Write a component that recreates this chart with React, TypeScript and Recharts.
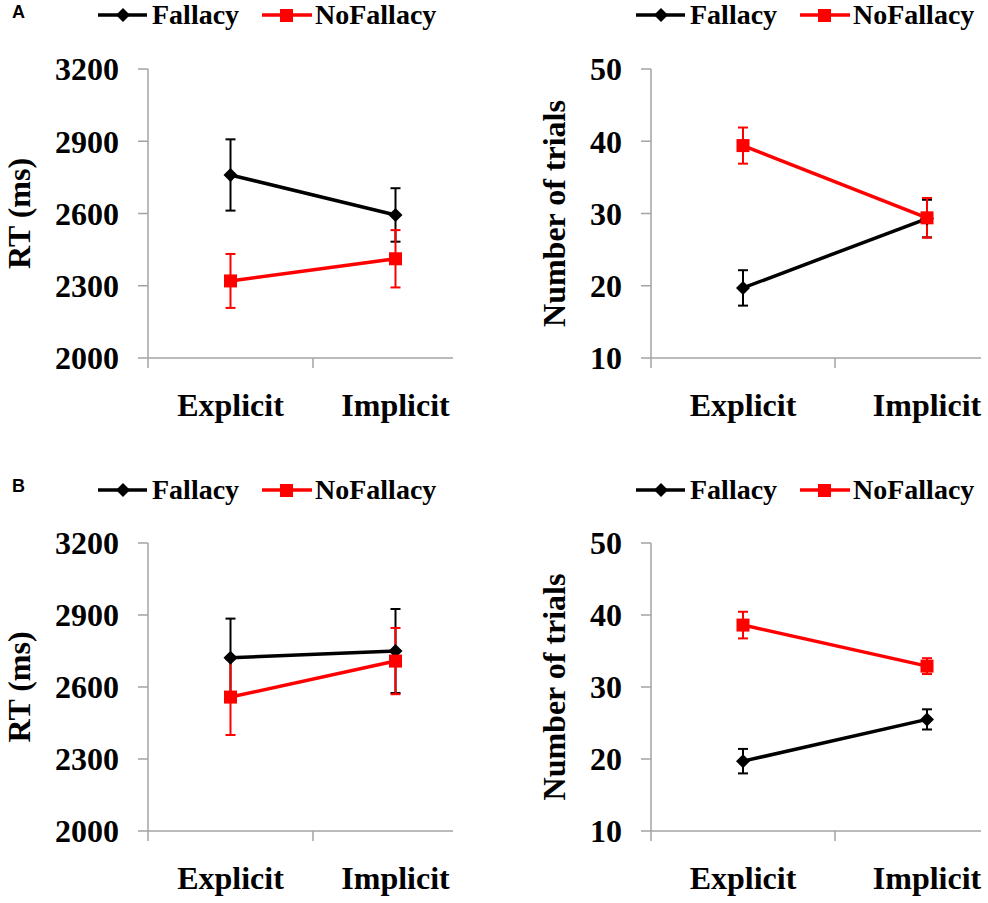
import { LineChart, Line, XAxis, YAxis, ErrorBar, Label } from "recharts";

const CONDITIONS = ["Explicit", "Implicit"];
const CONDITION_POS = [0.5, 1.5];

const RT_TICKS = [2000, 2300, 2600, 2900, 3200];
const TRIAL_TICKS = [10, 20, 30, 40, 50];

// panel A
const rtFallacyA = [2760, 2594];
const rtFallacyErrA = [148, 111];
const rtNoFallacyA = [2320, 2412];
const rtNoFallacyErrA = [112, 119];
const trialsFallacyA = [19.7, 29.3];
const trialsFallacyErrA = [2.45, 2.6];
const trialsNoFallacyA = [39.4, 29.4];
const trialsNoFallacyErrA = [2.5, 2.75];

// panel B
const rtFallacyB = [2722, 2750];
const rtFallacyErrB = [163, 175];
const rtNoFallacyB = [2558, 2708];
const rtNoFallacyErrB = [158, 138];
const trialsFallacyB = [19.7, 25.5];
const trialsFallacyErrB = [1.7, 1.4];
const trialsNoFallacyB = [38.6, 32.9];
const trialsNoFallacyErrB = [1.85, 1.1];

const SERIF = "'Liberation Serif', serif";
const AXIS = "#a3a3a3";
const RED = "#ff0000";

type Row = { x: number; fallacy: number; fallacyErr: number; noFallacy: number; noFallacyErr: number };

function buildRows(f: number[], fe: number[], n: number[], ne: number[]): Row[] {
  return CONDITIONS.map((_c, i) => ({
    x: CONDITION_POS[i],
    fallacy: f[i],
    fallacyErr: fe[i],
    noFallacy: n[i],
    noFallacyErr: ne[i],
  }));
}

function Diamond(props: any) {
  const { cx, cy } = props;
  if (cx == null || cy == null) return null;
  const r = 7;
  return <path d={`M${cx},${cy - r}L${cx + r},${cy}L${cx},${cy + r}L${cx - r},${cy}Z`} fill="#000" />;
}

function Square(props: any) {
  const { cx, cy } = props;
  if (cx == null || cy == null) return null;
  return <rect x={cx - 6.5} y={cy - 6.5} width={13} height={13} fill={RED} />;
}

// integer ticks = small tick marks on the axis, half ticks = condition names
function CategoryTick(props: any) {
  const { x, y, payload } = props;
  const v = payload.value as number;
  if (Number.isInteger(v)) {
    return <line x1={x} x2={x} y1={y} y2={y + 10} stroke={AXIS} strokeWidth={1.5} />;
  }
  const idx = CONDITION_POS.indexOf(v);
  return (
    <text x={x} y={y + 58} textAnchor="middle" style={{ fontFamily: SERIF, fontWeight: "bold", fontSize: 32 }} fill="#000">
      {CONDITIONS[idx]}
    </text>
  );
}

function Legend({ left, top }: { left: number; top: number }) {
  const font = { fontFamily: SERIF, fontWeight: "bold" as const, fontSize: 28 };
  return (
    <svg style={{ position: "absolute", left, top }} width={400} height={34}>
      <line x1={0} x2={49} y1={17} y2={17} stroke="#000" strokeWidth={3.5} />
      <path d="M25,10L32,17L25,24L18,17Z" fill="#000" />
      <text x={54} y={26} style={font}>Fallacy</text>
      <line x1={164} x2={214} y1={17} y2={17} stroke={RED} strokeWidth={3.5} />
      <rect x={182} y={11} width={13} height={13} fill={RED} />
      <text x={217} y={26} style={font}>NoFallacy</text>
    </svg>
  );
}

type PanelProps = {
  left: number;
  top: number;
  rows: Row[];
  ticks: number[];
  yLabel: string;
  labelX: number;
  axisWidth: number;
  rightMargin: number;
  plotTop: number;
  plotBottom: number;
  xMax: number;
  legendLeft: number;
  legendTop: number;
};

function Panel(p: PanelProps) {
  const W = 494;
  const H = 451;
  return (
    <div style={{ position: "absolute", left: p.left, top: p.top, width: W, height: H }}>
      <Legend left={p.legendLeft} top={p.legendTop} />
      <div style={{ position: "absolute", left: 0, top: 0 }}>
        <LineChart
          width={W}
          height={H}
          data={p.rows}
          margin={{ top: p.plotTop, right: p.rightMargin, bottom: H - p.plotBottom - 60, left: 0 }}
        >
          <XAxis
            dataKey="x"
            type="number"
            domain={[0, p.xMax]}
            ticks={[0, 0.5, 1, 1.5]}
            interval={0}
            height={60}
            axisLine={{ stroke: AXIS, strokeWidth: 1.5 }}
            tickLine={false}
            tickSize={0}
            tickMargin={0}
            tick={<CategoryTick />}
          />
          <YAxis
            type="number"
            domain={[p.ticks[0], p.ticks[p.ticks.length - 1]]}
            ticks={p.ticks}
            interval={0}
            width={p.axisWidth}
            axisLine={{ stroke: AXIS, strokeWidth: 1.5 }}
            tickLine={{ stroke: AXIS, strokeWidth: 1.5 }}
            tickSize={10}
            tickMargin={19}
            tick={{ style: { fontFamily: SERIF, fontWeight: "bold", fontSize: 32 }, fill: "#000" }}
          >
            <Label
              content={(lp: any) => {
                const vb = lp.viewBox;
                const cx = vb.x + p.labelX;
                const cy = vb.y + vb.height / 2;
                return (
                  <text
                    x={cx}
                    y={cy}
                    transform={`rotate(-90, ${cx}, ${cy})`}
                    textAnchor="middle"
                    style={{ fontFamily: SERIF, fontWeight: "bold", fontSize: 32 }}
                    fill="#000"
                  >
                    {p.yLabel}
                  </text>
                );
              }}
            />
          </YAxis>
          <Line
            dataKey="fallacy"
            stroke="#000"
            strokeWidth={3.5}
            dot={<Diamond />}
            activeDot={false}
            isAnimationActive={false}
          >
            <ErrorBar dataKey="fallacyErr" direction="y" width={5} stroke="#000" strokeWidth={2} isAnimationActive={false} />
          </Line>
          <Line
            dataKey="noFallacy"
            stroke={RED}
            strokeWidth={3.5}
            dot={<Square />}
            activeDot={false}
            isAnimationActive={false}
          >
            <ErrorBar dataKey="noFallacyErr" direction="y" width={5} stroke={RED} strokeWidth={2} isAnimationActive={false} />
          </Line>
        </LineChart>
      </div>
    </div>
  );
}

const letterStyle = {
  position: "absolute" as const,
  left: 12,
  fontFamily: "'Liberation Sans', sans-serif",
  fontWeight: "bold" as const,
  fontSize: 18,
};

export default function App() {
  return (
    <div style={{ position: "absolute", left: 0, top: 0, width: 988, height: 903, background: "#fff" }}>
      <Panel
        left={0}
        top={0}
        rows={buildRows(rtFallacyA, rtFallacyErrA, rtNoFallacyA, rtNoFallacyErrA)}
        ticks={RT_TICKS}
        yLabel="RT (ms)"
        labelX={30}
        axisWidth={148}
        rightMargin={41}
        plotTop={69}
        plotBottom={358}
        xMax={305 / 165}
        legendLeft={98}
        legendTop={-2}
      />
      <Panel
        left={494}
        top={0}
        rows={buildRows(trialsFallacyA, trialsFallacyErrA, trialsNoFallacyA, trialsNoFallacyErrA)}
        ticks={TRIAL_TICKS}
        yLabel="Number of trials"
        labelX={71}
        axisWidth={157}
        rightMargin={7}
        plotTop={69}
        plotBottom={358}
        xMax={330 / 184}
        legendLeft={142}
        legendTop={-2}
      />
      <Panel
        left={0}
        top={451}
        rows={buildRows(rtFallacyB, rtFallacyErrB, rtNoFallacyB, rtNoFallacyErrB)}
        ticks={RT_TICKS}
        yLabel="RT (ms)"
        labelX={30}
        axisWidth={148}
        rightMargin={41}
        plotTop={92}
        plotBottom={380}
        xMax={305 / 165}
        legendLeft={98}
        legendTop={22}
      />
      <Panel
        left={494}
        top={451}
        rows={buildRows(trialsFallacyB, trialsFallacyErrB, trialsNoFallacyB, trialsNoFallacyErrB)}
        ticks={TRIAL_TICKS}
        yLabel="Number of trials"
        labelX={71}
        axisWidth={157}
        rightMargin={7}
        plotTop={92}
        plotBottom={380}
        xMax={330 / 184}
        legendLeft={142}
        legendTop={22}
      />
      <div style={{ ...letterStyle, top: 2 }}>A</div>
      <div style={{ ...letterStyle, top: 476 }}>B</div>
    </div>
  );
}
